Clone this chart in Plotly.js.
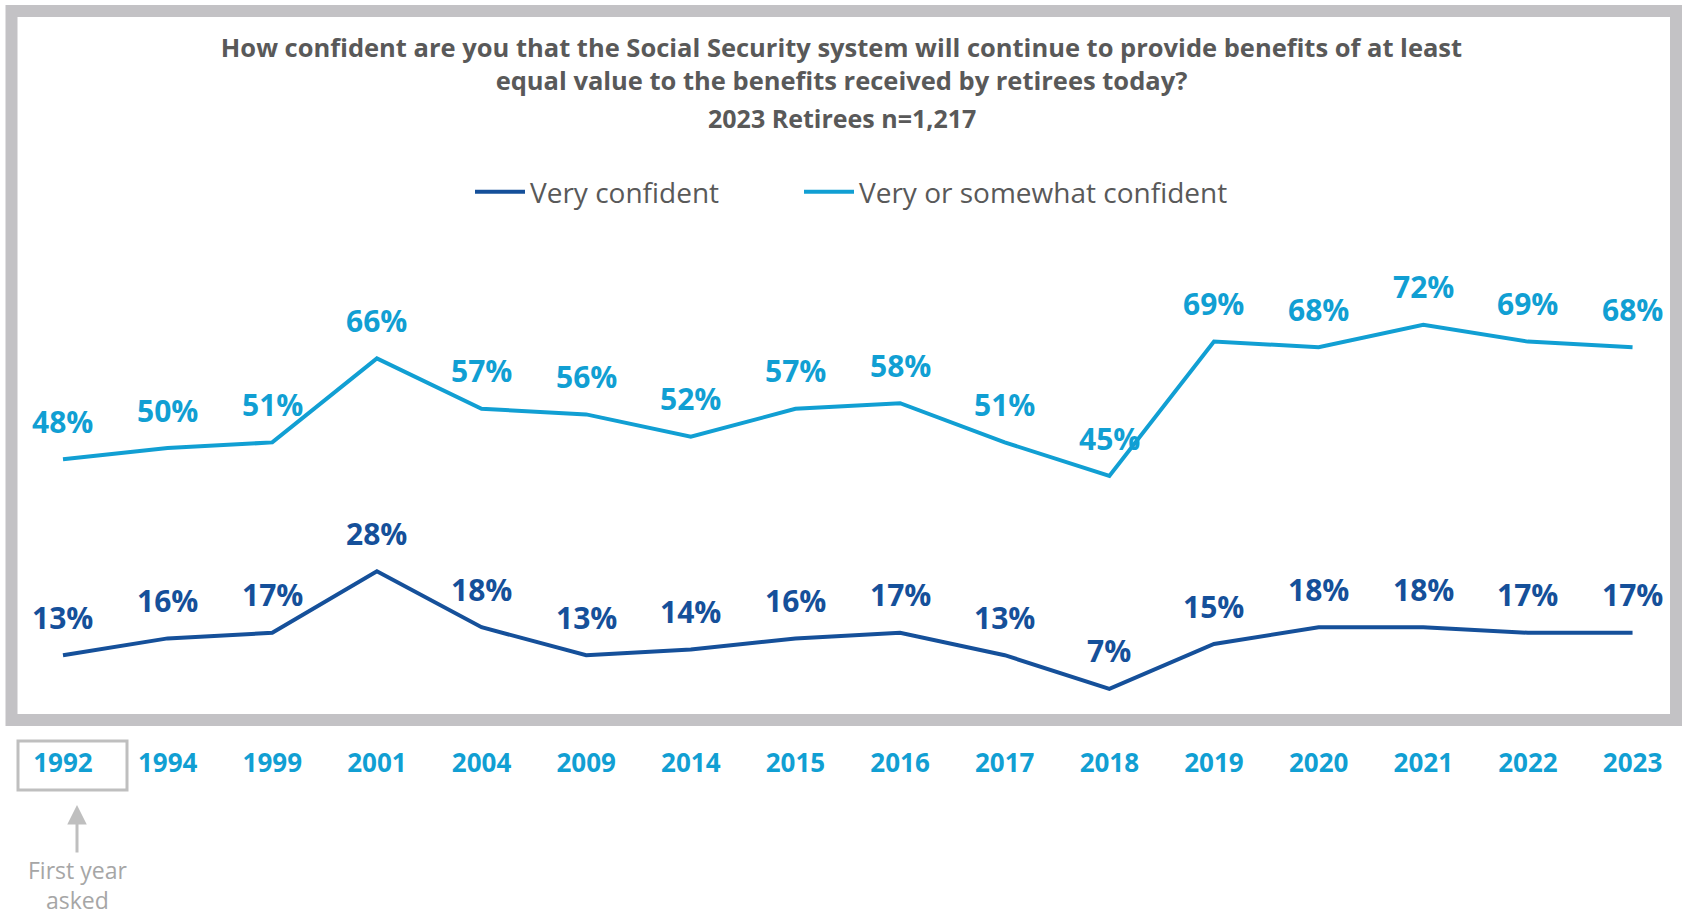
<!DOCTYPE html>
<html>
<head>
<meta charset="utf-8">
<script src="https://cdn.plot.ly/plotly-3.0.1.min.js"></script>
<style>
  html, body { margin: 0; padding: 0; background: #ffffff; }
  #chart { width: 1683px; height: 917px; }
</style>
</head>
<body>
<div id="chart"></div>
<script>
// ---- Data ----
const years = ['1992','1994','1999','2001','2004','2009','2014','2015','2016','2017','2018','2019','2020','2021','2022','2023'];
const veryConfident = [13,16,17,28,18,13,14,16,17,13,7,15,18,18,17,17];
const verySomewhatConfident = [48,50,51,66,57,56,52,57,58,51,45,69,68,72,69,68];
const seriesNames = ['Very confident', 'Very or somewhat confident'];
const titleText = 'How confident are you that the Social Security system will continue to provide benefits of at least<br>equal value to the benefits received by retirees today?';
const subtitleText = '2023 Retirees n=1,217';
const noteText = 'First year<br>asked';

// ---- Styling / layout constants ----
const W = 1683, H = 917;
const M = { l: 18, r: 13, t: 224, b: 189 };
const plotW = W - M.l - M.r, plotH = H - M.t - M.b;
const px2x = px => (px - M.l) / plotW;
const px2y = py => (H - M.b - py) / plotH;

const darkBlue = '#15509A';
const lightBlue = '#119FD3';
const greyText = '#595959';
const font = '"Open Sans", "DejaVu Sans", sans-serif';

const series = [
  { name: seriesNames[0], values: veryConfident, color: darkBlue, legend: 'legend', lx: 470 },
  { name: seriesNames[1], values: verySomewhatConfident, color: lightBlue, legend: 'legend2', lx: 799 }
];

const traces = series.map(s => ({
  type: 'scatter',
  mode: 'lines',
  x: years,
  y: s.values,
  name: s.name,
  legend: s.legend,
  line: { color: s.color, width: 4 },
  hoverinfo: 'x+y+name'
}));

const annotations = [];
series.forEach(s => {
  s.values.forEach((v, i) => {
    annotations.push({
      x: i, y: v, xref: 'x', yref: 'y',
      text: v + '%', showarrow: false, yshift: 38,
      xanchor: 'center', yanchor: 'middle',
      font: { family: font, size: 30, color: s.color, weight: 700 }
    });
  });
});

annotations.push({
  xref: 'paper', yref: 'paper', x: px2x(841.5), y: px2y(118),
  text: subtitleText, showarrow: false, xanchor: 'center', yanchor: 'middle',
  font: { family: font, size: 25, color: greyText, weight: 700 }
});

annotations.push({
  xref: 'paper', yref: 'paper', x: px2x(77), y: px2y(805),
  text: noteText, showarrow: true, ax: 0, ay: 80,
  arrowcolor: '#BFBFBF', arrowwidth: 3, arrowhead: 2, arrowsize: 1.3,
  font: { family: font, size: 23, color: '#A6A6A6' }
});

const shapes = [
  {
    type: 'rect', xref: 'paper', yref: 'paper',
    x0: px2x(11.5), x1: px2x(1676), y0: px2y(11), y1: px2y(720),
    line: { color: '#C3C2C5', width: 12 }, fillcolor: 'rgba(0,0,0,0)', layer: 'below'
  },
  {
    type: 'rect', xref: 'paper', yref: 'paper',
    x0: px2x(18), x1: px2x(127), y0: px2y(741), y1: px2y(790),
    line: { color: '#BFBFBF', width: 3 }, fillcolor: 'rgba(0,0,0,0)'
  }
];

const legendBase = {
  orientation: 'h', xanchor: 'left', yanchor: 'middle', y: px2y(192),
  font: { family: font, size: 28, color: greyText },
  itemwidth: 50,
  bgcolor: 'rgba(0,0,0,0)', borderwidth: 0
};

const layout = {
  width: W, height: H,
  margin: M,
  paper_bgcolor: '#ffffff', plot_bgcolor: '#ffffff',
  title: {
    text: titleText, x: 0.5, xref: 'container', xanchor: 'center',
    y: 1 - 57 / H, yref: 'container', yanchor: 'middle',
    font: { family: font, size: 25.5, color: greyText, weight: 700 }
  },
  showlegend: true,
  legend: Object.assign({}, legendBase, { x: px2x(series[0].lx) }),
  legend2: Object.assign({}, legendBase, { x: px2x(series[1].lx) }),
  xaxis: {
    type: 'category', range: [-0.43, 15.358],
    showgrid: false, zeroline: false, showline: false,
    ticks: 'outside', ticklen: 12, tickcolor: 'rgba(0,0,0,0)',
    tickfont: { family: font, size: 26, color: lightBlue, weight: 700 },
    fixedrange: true
  },
  yaxis: {
    range: [0, 90], showticklabels: false, ticks: '', showline: false,
    showgrid: false, zeroline: false, fixedrange: true
  },
  annotations: annotations,
  shapes: shapes
};

Plotly.newPlot('chart', traces, layout, { displayModeBar: false, staticPlot: true });
</script>
</body>
</html>
